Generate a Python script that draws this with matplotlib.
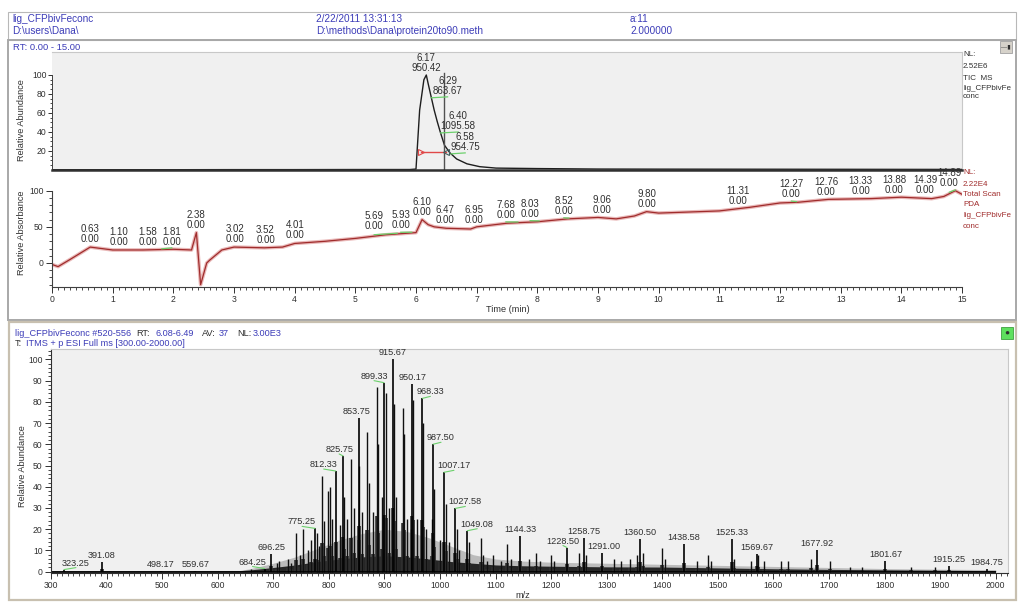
import numpy as np
import matplotlib.pyplot as plt
from matplotlib.patches import Rectangle
from matplotlib.ticker import MultipleLocator, FixedLocator

W, H = 1024, 609

# header bar
raw_file = "lig_CFPbivFeconc"
user_dir = "D:\\users\\Dana\\"
acq_time = "2/22/2011 13:31:13"
method_file = "D:\\methods\\Dana\\protein20to90.meth"
vial_pos = "a:11"
inj_volume = "2.000000"
rt_range = (0.0, 15.0)

# TIC trace, time (min) vs relative abundance (%)
tic_t = [0, 1, 2, 3, 4, 5, 5.9, 6.0, 6.06, 6.13, 6.17, 6.20, 6.25, 6.30, 6.35,
         6.40, 6.47, 6.56, 6.67, 6.84, 7.05, 7.32, 8, 9, 10, 12, 15]
tic_a = [0.3, 0.3, 0.3, 0.4, 0.4, 0.5, 0.5, 1, 63, 95, 100, 91, 77, 63, 51,
         40, 26, 18, 11.6, 6.5, 3.5, 2, 1.5, 1.0, 0.9, 0.8, 0.6]
tic_lbl_rt = [6.17, 6.29, 6.40, 6.58]
tic_lbl_mz = [950.42, 863.67, 1095.58, 954.75]
tic_lbl_level = [100, 76, 39, 17]
tic_nl = "2.52E6"
avg_rt = [6.08, 6.49]
avg_bar_level = 19
cursor_rt = 6.46

# PDA total scan, time (min) vs relative absorbance (%)
pda_t = [0, 0.1, 0.3, 0.63, 1.0, 1.5, 2.0, 2.3, 2.38, 2.45, 2.55, 2.6, 2.8, 3.0,
         3.5, 3.8, 4.0, 4.5, 5.0, 5.5, 6.0, 6.1, 6.2, 6.3, 6.5, 6.9, 7.0, 7.5,
         8.0, 8.5, 9.0, 9.3, 9.6, 9.8, 10.0, 11.0, 11.5, 12.0, 12.3, 12.8,
         13.5, 14.0, 14.5, 14.7, 14.89, 15.0]
pda_a = [-2, -5, 5, 22, 18, 18, 19, 18, 42, -30, 0, 4, 18, 22,
         21, 22, 27, 30, 34, 39, 42, 60, 53, 50, 48, 47, 50, 55,
         57, 61, 63, 61, 65, 71, 69, 72, 77, 83, 84, 88,
         89, 91, 89, 92, 100, 95]
pda_lbl_rt = [0.63, 1.10, 1.58, 1.81, 2.38, 3.02, 3.52, 4.01, 5.69, 5.93, 6.10,
              6.47, 6.95, 7.68, 8.03, 8.52, 9.06, 9.80, 11.31, 12.27, 12.76,
              13.33, 13.88, 14.39, 14.89]
pda_nl = "2.22E4"

# averaged full-scan spectrum
scan_range = "#520-556"
ms_rt = "6.08-6.49"
ms_av = "37"
ms_nl = "3.00E3"
ms_filter = "ITMS + p ESI Full ms [300.00-2000.00]"
ms_lbl_mz = [323.25, 391.08, 498.17, 559.67, 684.25, 696.25, 775.25, 812.33,
             825.75, 853.75, 899.33, 915.67, 950.17, 968.33, 987.50, 1007.17,
             1027.58, 1049.08, 1144.33, 1228.50, 1258.75, 1291.00, 1360.50,
             1438.58, 1525.33, 1569.67, 1677.92, 1801.67, 1915.25, 1984.75]
ms_lbl_int = [1.0, 4.7, 0.5, 0.5, 1.5, 8.2, 20.4, 47.4, 54.5, 72.2, 89.0, 100,
              88.2, 81.6, 60.0, 46.8, 29.8, 19.3, 16.9, 11.4, 15.8, 9.0, 15.3,
              13.0, 15.3, 8.2, 10.0, 5.0, 2.7, 1.5]
ms_mz = [660, 706, 710, 726, 731, 740, 748, 754, 762, 768, 778, 783, 788, 792,
         798, 802, 806, 820, 827, 833, 840, 845, 855, 860, 869, 872, 880, 886,
         888, 895, 903, 908, 918, 921, 933, 935, 940, 947, 952, 958, 970, 975,
         985, 990, 1000, 1010, 1017, 1030, 1035, 1052, 1073, 1078, 1085, 1096,
         1110, 1121, 1128, 1160, 1173, 1180, 1199, 1205, 1250, 1263, 1313, 1326,
         1342, 1355, 1365, 1400, 1405, 1463, 1482, 1488, 1529, 1560, 1572, 1584,
         1614, 1626, 1668, 1702, 1737, 1760, 1848, 1891]
ms_int = [1.5, 4, 5, 6, 4, 18, 8, 20, 10, 15, 18, 12, 45, 24,
          38, 40, 25, 22, 35, 25, 53, 30, 50, 28, 66, 42, 28, 87,
          60, 35, 84, 30, 79, 35, 77, 65, 25, 20, 81, 25, 70, 20,
          25, 39, 15, 32, 14, 20, 10, 14, 15.7, 8, 5, 8,
          5, 13, 6, 6, 9, 5, 8, 5, 9, 8, 6, 5,
          6, 8, 9, 11, 6, 5, 8, 5, 6, 5, 8, 5,
          5, 5, 6, 5, 2, 2, 2, 2]
# baseline grass (dark) and profile hairs (grey)
env_mz = [300, 640, 660, 700, 740, 780, 820, 860, 900, 940, 980, 1020, 1060,
          1100, 1150, 1200, 1300, 1400, 1500, 1600, 1700, 1800, 1900, 2000]
env_dark = [0.4, 0.5, 0.9, 2.0, 3.2, 4.8, 6.0, 7.0, 7.5, 7.0, 6.0, 4.8, 4.0,
            3.2, 2.8, 2.6, 2.3, 2.2, 1.8, 1.4, 1.1, 0.9, 0.7, 0.5]
env_gray = [0.5, 0.6, 1.5, 4, 7, 11, 15, 18, 20, 19, 16, 12, 8,
            6, 5, 4.5, 4, 3.5, 3, 2.5, 2, 1.5, 1.2, 1]

plt.rcParams['font.family'] = ['Liberation Sans', 'DejaVu Sans']
BLUE = '#3c3cb8'
TXT = '#303030'
RED = '#a02c2c'
GREEN = '#6cd06c'
MIN_PX = 910 / 15.0   # pixels per minute on the two trace panels


def fx(x):
    return x / W


def fy(y):
    return 1 - y / H


def pane(x0, y0, x1, y1, **kw):
    fig.add_artist(Rectangle((fx(x0), fy(y1)), (x1 - x0) / W, (y1 - y0) / H,
                             transform=fig.transFigure, fill=False, **kw))


def ptext(x, y, s, **kw):
    kw.setdefault('va', 'center')
    kw.setdefault('fontsize', 7.2)
    fig.text(fx(x), fy(y), s, **kw)


def side_note(x, y0, lines, step, **kw):
    # one text per line so the spacing follows the screenshot
    for i, s in enumerate(lines):
        ptext(x, y0 + step[i], s, **kw)


def axes_px(l, t, r, b):
    return fig.add_axes([fx(l), fy(b), (r - l) / W, (b - t) / H])


fig = plt.figure(figsize=(W / 100, H / 100), dpi=100)

# window frames
pane(8, 12, 1016, 40, ec='#b8b8b8', lw=0.8)
pane(8, 40, 1016, 320, ec='#a8a8a8', lw=1.4)
pane(9, 322, 1016, 600, ec='#c8c0b0', lw=1.6)

ptext(12, 19, raw_file, color=BLUE)
ptext(12, 31, user_dir, color=BLUE)
ptext(316, 19, acq_time, color=BLUE)
ptext(316, 31, method_file, color=BLUE)
ptext(630, 19, vial_pos, color=BLUE)
ptext(630, 31, inj_volume, color=BLUE)
ptext(13, 47, "RT: %.2f - %.2f" % rt_range, color=BLUE, fontsize=6.8)

# pin and view icons
fig.add_artist(Rectangle((fx(1000), fy(53)), 12 / W, 12 / H, transform=fig.transFigure,
                         fc='#d6d2ca', ec='#a0a0a0', lw=0.6))
ptext(1006, 47, "\u2014\u25ae", fontsize=4.5, ha='center', color='#303030')
fig.add_artist(Rectangle((fx(1001), fy(339)), 12 / W, 12 / H, transform=fig.transFigure,
                         fc='#5ee05e', ec='#40a040', lw=0.6))
ptext(1007, 333, "\u25cf", fontsize=6, ha='center', color='#303030')

# ---- TIC
ax1 = axes_px(52, 52, 962, 170)
ax1.set_facecolor('#f0f0f0')
ax1.set_xlim(*rt_range)
ax1.set_ylim(0, 124.2)
ax1.plot(tic_t, tic_a, color='#1e1e1e', lw=1.0)
ax1.axvline(cursor_rt, ymax=102 / 124.2, color='#505050', lw=1.0)
ax1.plot(avg_rt, [avg_bar_level] * 2, color='#e04848', lw=1.0)
ax1.plot(avg_rt[0], avg_bar_level, marker='>', ms=4, mfc='none', mec='#e04848', mew=0.8)
ax1.plot(avg_rt[1], avg_bar_level, marker='<', ms=4, mfc='none', mec='#406060', mew=0.8)
top = int(np.argmax(tic_a))
tail_t = np.array(tic_t[top:])[::-1]
tail_a = np.array(tic_a[top:])[::-1]
tic_dx = [0, 14, 18, 14]
for rt, mz, lev, dx in zip(tic_lbl_rt, tic_lbl_mz, tic_lbl_level, tic_dx):
    ax1.annotate("%.2f\n%.2f" % (rt, mz), (rt, lev), xytext=(dx, 2),
                 textcoords='offset pixels', ha='center', va='bottom',
                 fontsize=7, linespacing=1.0, color=TXT)
    if dx:
        t_cross = np.interp(lev, tail_a, tail_t)
        ax1.plot([t_cross, rt + dx / MIN_PX], [lev, lev + 1], color=GREEN, lw=0.9)
ax1.yaxis.set_major_locator(FixedLocator([20, 40, 60, 80, 100]))
ax1.yaxis.set_minor_locator(FixedLocator(np.arange(5, 101, 5)))
ax1.set_xticks([])
ax1.tick_params(axis='y', which='major', length=3, width=0.7, labelsize=6.2,
                colors=TXT, pad=1)
ax1.tick_params(axis='y', which='minor', length=1.5, width=0.5)
for s in ['top', 'right']:
    ax1.spines[s].set_color('#c8c8c8')
ax1.spines['left'].set_color('#404040')
ax1.spines['left'].set_linewidth(0.7)
ax1.spines['left'].set_bounds(0, 100)
ax1.spines['bottom'].set_color('#303030')
ax1.spines['bottom'].set_linewidth(1.8)
ptext(22, 120, "Relative Abundance", rotation=90, ha='center', fontsize=6.6, color=TXT)
side_note(963, 55, ["NL:", tic_nl, "TIC  MS", raw_file[:12], raw_file[12:]],
          [0, 11, 23, 33, 42], fontsize=5.8, color=TXT)

# ---- PDA
ax2 = axes_px(52, 176, 962, 287)
ax2.patch.set_alpha(0)
ax2.set_xlim(*rt_range)
ax2.set_ylim(-33.2, 120.3)
ax2.plot(pda_t, pda_a, color='#e9b8b8', lw=2.6, solid_joinstyle='round')
ax2.plot(pda_t, pda_a, color=RED, lw=0.9)
pda_dx = {1.81: 10, 5.69: -23, 5.93: -11, 7.68: -12, 8.03: -9, 8.52: -5,
          12.27: -5, 14.89: -6}
for rt in pda_lbl_rt:
    yv = np.interp(rt, pda_t, pda_a)
    dx = pda_dx.get(rt, 0)
    ax2.annotate("%.2f\n0.00" % rt, (rt, yv), xytext=(dx, 3),
                 textcoords='offset pixels', ha='center', va='bottom',
                 fontsize=7, linespacing=1.0, color=TXT)
    if dx:
        t_lab = rt + dx / MIN_PX
        ax2.plot([t_lab, rt], [np.interp(t_lab, pda_t, pda_a) + 2, yv + 1],
                 color=GREEN, lw=0.9)
ax2.xaxis.set_major_locator(MultipleLocator(1))
ax2.xaxis.set_minor_locator(MultipleLocator(0.1))
ax2.yaxis.set_major_locator(FixedLocator([0, 50, 100]))
ax2.yaxis.set_minor_locator(FixedLocator(np.arange(-30, 101, 10)))
ax2.tick_params(which='major', length=4, width=0.7, labelsize=6.2, colors=TXT, pad=2)
ax2.tick_params(which='minor', length=2, width=0.5)
ax2.spines['top'].set_visible(False)
ax2.spines['right'].set_visible(False)
ax2.spines['left'].set_bounds(-33.2, 100)
for s in ['left', 'bottom']:
    ax2.spines[s].set_color('#404040')
    ax2.spines[s].set_linewidth(0.8)
ptext(22, 233, "Relative Absorbance", rotation=90, ha='center', fontsize=6.6, color=TXT)
ptext(508, 309, "Time (min)", ha='center', fontsize=6.6, color=TXT)
side_note(963, 173, ["NL:", pda_nl, "Total Scan", "PDA", raw_file[:12], raw_file[12:]],
          [0, 11, 22, 32, 42.5, 53], fontsize=5.8, color=RED)

# ---- mass spectrum
ptext(15, 333, raw_file + " " + scan_range, color=BLUE, fontsize=6.6)
ptext(136, 333, "RT:", color=TXT, fontsize=6.6)
ptext(155, 333, ms_rt, color=BLUE, fontsize=6.6)
ptext(202, 333, "AV:", color=TXT, fontsize=6.6)
ptext(219, 333, ms_av, color=BLUE, fontsize=6.6)
ptext(237, 333, "NL:", color=TXT, fontsize=6.6)
ptext(253, 333, ms_nl, color=BLUE, fontsize=6.6)
ptext(15, 343.5, "T:", color=TXT, fontsize=6.6)
ptext(26, 343.5, ms_filter, color=BLUE, fontsize=6.6)

ax3 = axes_px(51, 349, 1008, 573)
ax3.set_facecolor('#f0f0f0')
ax3.set_xlim(300, 2022.2)
ax3.set_ylim(-0.6, 104.85)
ax3.fill_between(env_mz, 0, env_gray, color='#bcbcbc', lw=0)
ax3.fill_between(env_mz, 0, env_dark, color='#262626', lw=0)
all_mz = np.array(ms_mz + ms_lbl_mz)
all_int = np.array(ms_int + ms_lbl_int)
# thicker profile foot under each peak
ax3.vlines(all_mz, 0, 0.3 * all_int, color='#303030', lw=2.6)
ax3.vlines(ms_mz, 0, ms_int, color='#101010', lw=1.0)
ax3.vlines(ms_lbl_mz, 0, ms_lbl_int, color='#000000', lw=1.2)
ax3.hlines(0, env_mz[0], env_mz[-1], color='#000000', lw=1.2)
ms_dx = {323.25: 12, 684.25: -12, 775.25: -13, 812.33: -12, 825.75: -4,
         853.75: -2, 899.33: -10, 968.33: 8, 987.50: 8, 1007.17: 10,
         1027.58: 10, 1049.08: 10, 1228.50: -4, 1291.00: 2}
for mz, it in zip(ms_lbl_mz, ms_lbl_int):
    dx = ms_dx.get(mz, 0)
    arrow = None
    if abs(dx) >= 4:
        arrow = dict(arrowstyle='-', color=GREEN, lw=0.8, shrinkA=0, shrinkB=0,
                     relpos=(0.5, 0))
    ax3.annotate("%.2f" % mz, (mz, it), xytext=(dx, 2), textcoords='offset pixels',
                 ha='center', va='bottom', fontsize=6.6, color=TXT, arrowprops=arrow)
ax3.xaxis.set_major_locator(MultipleLocator(100))
ax3.xaxis.set_minor_locator(MultipleLocator(10))
ax3.yaxis.set_major_locator(MultipleLocator(10))
ax3.yaxis.set_minor_locator(MultipleLocator(2))
ax3.tick_params(which='major', length=4, width=0.7, labelsize=6.2, colors=TXT, pad=2)
ax3.tick_params(which='minor', length=2, width=0.5)
for s in ['top', 'right']:
    ax3.spines[s].set_color('#c8c8c8')
for s in ['left', 'bottom']:
    ax3.spines[s].set_color('#303030')
    ax3.spines[s].set_linewidth(0.8)
ptext(23, 466, "Relative Abundance", rotation=90, ha='center', fontsize=6.6, color=TXT)
ptext(523, 596, "m/z", ha='center', fontsize=6.6, color=TXT)

fig.savefig("out.png", dpi=100)
